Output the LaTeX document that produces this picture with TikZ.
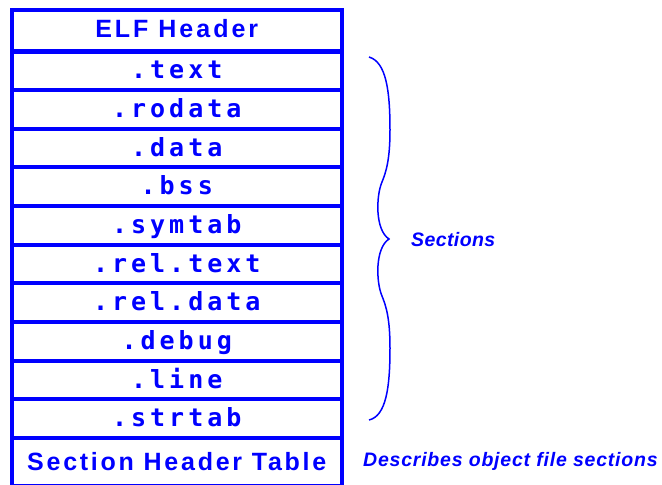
\documentclass[tikz,border=0pt]{standalone}
\usepackage{fontspec}
\setmainfont{Liberation Sans}
\newfontfamily\secfont[LetterSpace=16]{DejaVu Sans Mono}
\newfontfamily\headfont[LetterSpace=12]{Liberation Sans}
\newfontfamily\notefont[LetterSpace=2]{Liberation Sans}
\begin{document}
\begin{tikzpicture}[x=1pt,y=-1pt,
	part/.style={draw=blue,line width=4pt,text=blue,minimum width=330.5pt,inner sep=0pt,text height=16pt,text depth=0pt},
	sec/.style={part,minimum height=38.65pt,font=\secfont\bfseries\fontsize{25}{25}\selectfont},
	head/.style={part,font=\headfont\bfseries\fontsize{25}{25}\selectfont},
	note/.style={text=blue,inner sep=0pt,font=\notefont\bfseries\itshape\fontsize{19.5}{20}\selectfont}]
		\useasboundingbox (0,0) rectangle (662,485);
		\node[head,minimum height=42pt,text height=14pt] (elf) at (176.75,30.5) {ELF Header};
		\node[sec] (text) at (176.75,70.8) {.text};
		\node[sec] (rodata) at (176.75,109.45) {.rodata};
		\node[sec] (data) at (176.75,148.1) {.data};
		\node[sec] (bss) at (176.75,186.75) {.bss};
		\node[sec] (symtab) at (176.75,225.4) {.symtab};
		\node[sec] (reltext) at (176.75,264.05) {.rel.text};
		\node[sec] (reldata) at (176.75,302.7) {.rel.data};
		\node[sec] (debug) at (176.75,341.35) {.debug};
		\node[sec] (line) at (176.75,380) {.line};
		\node[sec] (strtab) at (176.75,418.65) {.strtab};
		\node[head,minimum height=48pt] (sht) at (176.75,462) {\addfontfeature{LetterSpace=11}Section Header Table};
		\draw[blue,line width=1.5pt](369,57) .. controls (386,62) and (390,90) .. (390,130) .. controls (390,160) and (386,172) .. (382,182) .. controls (376,196) and (375,230) .. (389,239) .. controls (375,248) and (376,282) .. (382,296) .. controls (386,306) and (390,318) .. (390,348) .. controls (390,388) and (386,416) .. (369,420);
		\node[note,anchor=base west] (sections) at (411,246) {Sections};
		\node[note,anchor=base west] (describes) at (363,466) {\addfontfeature{LetterSpace=4}Describes object file sections};
	    \end{tikzpicture}
\end{document}
